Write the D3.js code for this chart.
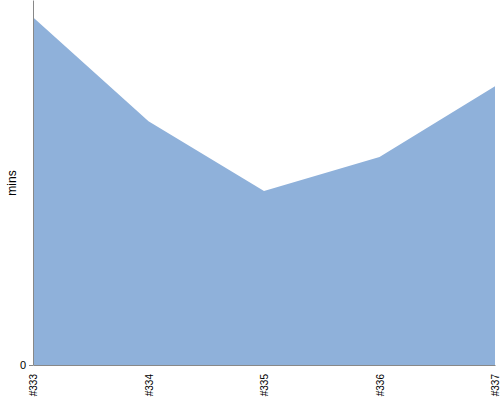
<!DOCTYPE html>
<html><head><meta charset="utf-8">
<script src="https://cdn.jsdelivr.net/npm/d3@7/dist/d3.min.js"></script>
<style>body{margin:0;background:#fff}svg{display:block}</style>
</head><body>
<svg id="c" width="500" height="400"></svg>
<script>
const categories = ["#333", "#334", "#335", "#336", "#337"];
const values = [95.3, 66.8, 47.7, 57.0, 76.4];
const yTicks = [0];

(function(){
const svg = d3.select("#c");
const mLeft = 33, mRight = 495, mTop = 0, mBottom = 365;
const x = d3.scalePoint().domain(categories).range([mLeft, mRight]);
const y = d3.scaleLinear().domain([0, 100]).range([mBottom, mTop]);

const data = categories.map((c, i) => ({c, v: values[i]}));
const area = d3.area().x(d => x(d.c)).y0(y(0)).y1(d => y(d.v));
svg.append("path").datum(data).attr("d", area).attr("fill", "rgb(143,177,218)");

const font = "Liberation Sans, Arial, sans-serif";
const ya = svg.append("g").attr("transform", `translate(${mLeft},0)`)
  .call(d3.axisLeft(y).tickValues(yTicks).tickSize(4).tickSizeOuter(0));
ya.select(".domain").attr("stroke", "#888");
ya.selectAll(".tick line").attr("stroke", "#888");
ya.selectAll("text").attr("font-family", font).attr("font-size", 11).attr("fill", "#000");

const xa = svg.append("g").attr("transform", `translate(0,${mBottom})`)
  .call(d3.axisBottom(x).tickSize(0).tickSizeOuter(0));
xa.select(".domain").attr("stroke", "#888");
xa.selectAll("text").attr("font-family", font).attr("font-size", 10).attr("fill", "#000")
  .attr("text-anchor", "end").attr("dy", "0.35em")
  .attr("transform", "translate(0,9) rotate(-90)").attr("x", 0).attr("y", 0);

svg.append("text").text("mins").attr("font-family", font).attr("font-size", 12)
  .attr("text-anchor", "middle").attr("transform", "translate(16,183) rotate(-90)");
})();
</script>
</body></html>
